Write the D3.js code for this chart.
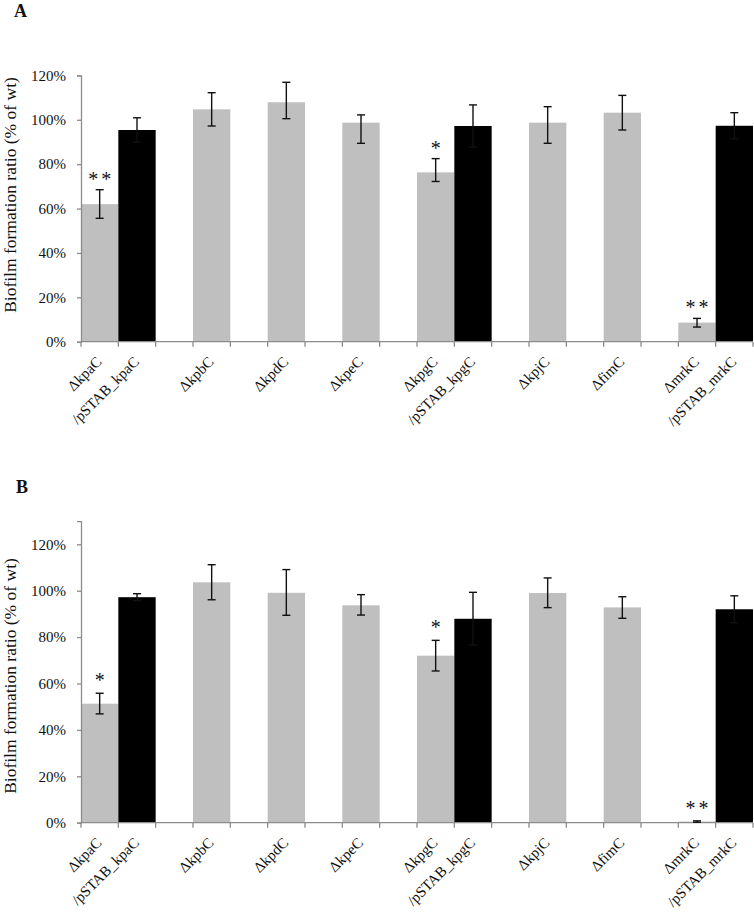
<!DOCTYPE html>
<html>
<head>
<meta charset="utf-8">
<script src="https://cdn.jsdelivr.net/npm/d3@7"></script>
<style>
  body { margin: 0; background: #fff; }
  svg { display: block; }
  text { font-family: "Liberation Serif", "Times New Roman", serif; }
</style>
</head>
<body>
<svg id="chart" width="754" height="918"></svg>
<script>
// ---- Data ----
const slotLabels = ["ΔkpaC", "/pSTAB_kpaC", "", "ΔkpbC", "", "ΔkpdC", "", "ΔkpeC", "",
                    "ΔkpgC", "/pSTAB_kpgC", "", "ΔkpjC", "", "ΔfimC", "", "ΔmrkC", "/pSTAB_mrkC"];
// "mutant" = gray bar, "comp" = complemented (black bar), "" = empty slot
const slotSeries = ["mutant", "comp", "", "mutant", "", "mutant", "", "mutant", "",
                    "mutant", "comp", "", "mutant", "", "mutant", "", "mutant", "comp"];
const yTicks = [0, 20, 40, 60, 80, 100, 120];

// Panel A
const valuesA  = [62.0, 95.4, null, 104.7, null, 107.9, null, 98.7, null, 76.3, 97.2, null, 98.7, null, 103.2, null, 8.6, 97.3];
const errUpA   = [6.5, 5.5, null, 7.5, null, 9.0, null, 3.5, null, 6.2, 9.5, null, 7.2, null, 7.8, null, 1.9, 5.9];
const errDownA = [6.4, 5.5, null, 7.5, null, 7.4, null, 9.3, null, 4.1, 9.5, null, 9.3, null, 7.8, null, 2.0, 5.9];
const starsA   = ["**", "", "", "", "", "", "", "", "", "*", "", "", "", "", "", "", "**", ""];

// Panel B
const valuesB  = [51.3, 97.2, null, 103.6, null, 99.1, null, 93.7, null, 72.0, 87.9, null, 99.0, null, 92.8, null, 0.5, 92.0];
const errUpB   = [4.5, 1.5, null, 7.6, null, 10.0, null, 4.6, null, 6.6, 11.4, null, 6.5, null, 4.6, null, 0.3, 5.8];
const errDownB = [4.4, 1.5, null, 7.5, null, 9.7, null, 4.2, null, 6.6, 11.4, null, 6.3, null, 4.7, null, 0.3, 5.8];
const starsB   = ["*", "", "", "", "", "", "", "", "", "*", "", "", "", "", "", "", "**", ""];

const yTitle = "Biofilm formation ratio (% of wt)";
const colors = { mutant: "#bfbfbf", comp: "#000000" };
const FONT = '"Liberation Serif", "Times New Roman", serif';

// ---- Drawing ----
const svg = d3.select("#chart");
svg.append("rect").attr("width", 754).attr("height", 918).attr("fill", "#fff");

function panel(cfg) {
  const g = svg.append("g");
  const x = d3.scaleBand().domain(d3.range(slotLabels.length)).range([cfg.x0, cfg.x1]).padding(0);
  const y = d3.scaleLinear().domain([0, cfg.yMax]).range([cfg.yBase, cfg.yTop]);

  const rows = slotLabels.map((l, i) => ({ i, label: l, s: slotSeries[i], v: cfg.values[i],
    up: cfg.errUp[i], dn: cfg.errDown[i], star: cfg.stars[i] })).filter(d => d.v !== null);

  // bars
  g.selectAll("rect.bar").data(rows).enter().append("rect")
    .attr("class", "bar")
    .attr("x", d => x(d.i))
    .attr("width", x.bandwidth())
    .attr("y", d => y(d.v))
    .attr("height", d => y(0) - y(d.v))
    .attr("fill", d => colors[d.s]);

  // y axis
  const yAxis = d3.axisLeft(y).tickValues(yTicks).tickFormat(d => d + "%").tickSize(4).tickPadding(11);
  const ya = g.append("g").attr("transform", `translate(${cfg.x0},0)`).call(yAxis);
  ya.attr("font-family", FONT);
  ya.select(".domain").attr("stroke", "#8c8c8c").attr("stroke-width", 1.3);
  ya.selectAll(".tick line").attr("stroke", "#8c8c8c").attr("stroke-width", 1.3);
  ya.selectAll(".tick text").attr("font-size", 15).attr("fill", "#111")
    .attr("font-family", FONT);

  // x axis: ticks at every slot boundary
  const xa = g.append("g");
  xa.append("line").attr("x1", cfg.x0).attr("x2", cfg.x1).attr("y1", y(0)).attr("y2", y(0))
    .attr("stroke", "#8c8c8c").attr("stroke-width", 1.3);
  const bounds = d3.range(slotLabels.length + 1).map(k => k === slotLabels.length ? cfg.x1 : x(k));
  xa.selectAll("line.tk").data(bounds).enter().append("line").attr("class", "tk")
    .attr("x1", d => d).attr("x2", d => d).attr("y1", y(0)).attr("y2", y(0) + 5)
    .attr("stroke", "#8c8c8c").attr("stroke-width", 1.3);

  // x labels (rotated -45°)
  xa.selectAll("text.xl").data(slotLabels.map((l, i) => ({ l, i })).filter(d => d.l !== ""))
    .enter().append("text").attr("class", "xl")
    .attr("transform", d => `translate(${x(d.i) + x.bandwidth() / 2 + 3},${y(0) + 21}) rotate(-45)`)
    .attr("text-anchor", "end")
    .attr("font-size", 15)
    .attr("font-family", FONT)
    .attr("fill", "#111")
    .text(d => d.l);

  // error bars
  const eb = g.selectAll("g.err").data(rows).enter().append("g").attr("class", "err");
  const cx = d => x(d.i) + x.bandwidth() / 2;
  eb.append("line").attr("x1", cx).attr("x2", cx)
    .attr("y1", d => y(d.v + d.up)).attr("y2", d => y(d.v - d.dn))
    .attr("stroke", "#111").attr("stroke-width", 1.4);
  eb.append("line").attr("x1", d => cx(d) - 4).attr("x2", d => cx(d) + 4)
    .attr("y1", d => y(d.v + d.up)).attr("y2", d => y(d.v + d.up))
    .attr("stroke", "#111").attr("stroke-width", 1.4);
  eb.append("line").attr("x1", d => cx(d) - 4).attr("x2", d => cx(d) + 4)
    .attr("y1", d => y(d.v - d.dn)).attr("y2", d => y(d.v - d.dn))
    .attr("stroke", "#111").attr("stroke-width", 1.4);

  // significance stars
  g.selectAll("text.star").data(rows.filter(d => d.star)).enter().append("text")
    .attr("class", "star")
    .attr("x", d => cx(d) + (d.star.length > 1 ? 1.5 : 0))
    .attr("y", d => y(d.v + d.up) - cfg.starGap)
    .attr("text-anchor", "middle")
    .attr("font-size", 20)
    .attr("font-family", FONT)
    .attr("letter-spacing", d => d.star.length > 1 ? "3px" : "0px")
    .attr("fill", "#111")
    .text(d => d.star);

  // y title
  g.append("text")
    .attr("transform", `translate(${cfg.titleX},${cfg.titleY}) rotate(-90)`)
    .attr("text-anchor", "middle")
    .attr("font-size", 17.5)
    .attr("font-family", FONT)
    .attr("fill", "#111")
    .text(yTitle);

  // panel letter
  g.append("text").attr("x", cfg.letterX).attr("y", cfg.letterY)
    .attr("font-size", 18).attr("font-weight", "bold").attr("font-family", FONT).attr("fill", "#111")
    .text(cfg.letter);
}

panel({ letter: "A", letterX: 14, letterY: 17, values: valuesA, errUp: errUpA, errDown: errDownA, stars: starsA,
        x0: 81, x1: 753, yBase: 341.7, yTop: 75.4, yMax: 120, titleX: 16, titleY: 195, starGap: 4 });
panel({ letter: "B", letterX: 16, letterY: 493, values: valuesB, errUp: errUpB, errDown: errDownB, stars: starsB,
        x0: 81, x1: 753, yBase: 822.7, yTop: 521.1, yMax: 130, titleX: 16, titleY: 676, starGap: 6 });
</script>
</body>
</html>
